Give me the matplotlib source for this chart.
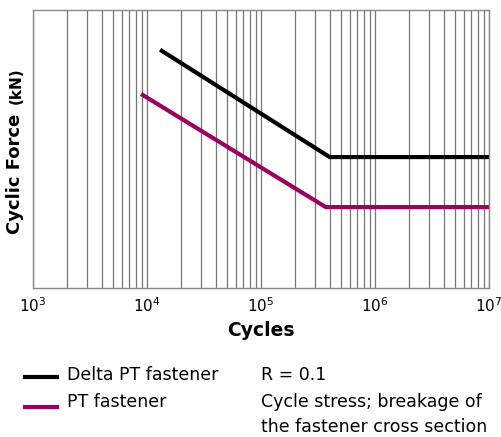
import matplotlib

matplotlib.use("Agg")

import matplotlib.pyplot as plt
from matplotlib.lines import Line2D
from matplotlib.ticker import LogLocator, NullFormatter

# S-N curves (y axis has no scale: arbitrary 0..100)
delta_cycles = [1.35e4, 4.0e5, 1.0e7]
delta_force = [85.3, 47.1, 47.1]
pt_cycles = [9.2e3, 3.7e5, 1.0e7]
pt_force = [69.4, 29.1, 29.1]

series_labels = ["Delta PT fastener", "PT fastener"]
series_colors = ["#000000", "#990060"]
note_lines = ["R = 0.1", "Cycle stress; breakage of", "the fastener cross section"]
x_ticks = [1e3, 1e4, 1e5, 1e6, 1e7]

fig = plt.figure(figsize=(5.01, 4.37), dpi=100)
ax = fig.add_axes([33 / 501, 1 - 288 / 437, 456 / 501, 278 / 437])

ax.plot(delta_cycles, delta_force, color=series_colors[0], lw=3.0, solid_joinstyle="miter")
ax.plot(pt_cycles, pt_force, color=series_colors[1], lw=3.0, solid_joinstyle="miter")

ax.set_xscale("log")
ax.set_xlim(1e3, 1e7)
ax.set_ylim(0, 100)
ax.set_xticks(x_ticks)
ax.set_xticklabels([f"$10^{{{i}}}$" for i in range(3, 8)], fontsize=11)
ax.xaxis.set_minor_locator(LogLocator(base=10, subs=range(2, 10)))
ax.xaxis.set_minor_formatter(NullFormatter())
ax.set_yticks([])
ax.tick_params(axis="x", which="both", length=0, pad=6)
ax.grid(True, axis="x", which="both", color="#777777", lw=0.9)
for s in ax.spines.values():
    s.set_color("#888888")
    s.set_linewidth(1.0)

ax.set_xlabel("Cycles", fontsize=13.5, fontweight="bold", labelpad=4)

# y label: "Cyclic Force" plus smaller "(kN)"
fig.text(15 / 501, 1 - 174 / 437, "Cyclic Force", rotation=90, fontsize=13,
         fontweight="bold", ha="center", va="center")
fig.text(16 / 501, 1 - 86 / 437, "(kN)", rotation=90, fontsize=11,
         fontweight="bold", ha="center", va="center")

# legend drawn by hand
legend_line_y = [377, 407]
legend_text_y = [375, 402]
for lab, col, ly, ty in zip(series_labels, series_colors, legend_line_y, legend_text_y):
    fig.add_artist(Line2D([25 / 501, 57 / 501], [1 - ly / 437] * 2, color=col, lw=3.0,
                          transform=fig.transFigure))
    fig.text(67 / 501, 1 - ty / 437, lab, fontsize=12.5, va="center")

for line, ty in zip(note_lines, [375, 402, 427]):
    fig.text(261 / 501, 1 - ty / 437, line, fontsize=12.5, va="center")

fig.savefig("out.png", dpi=100)
